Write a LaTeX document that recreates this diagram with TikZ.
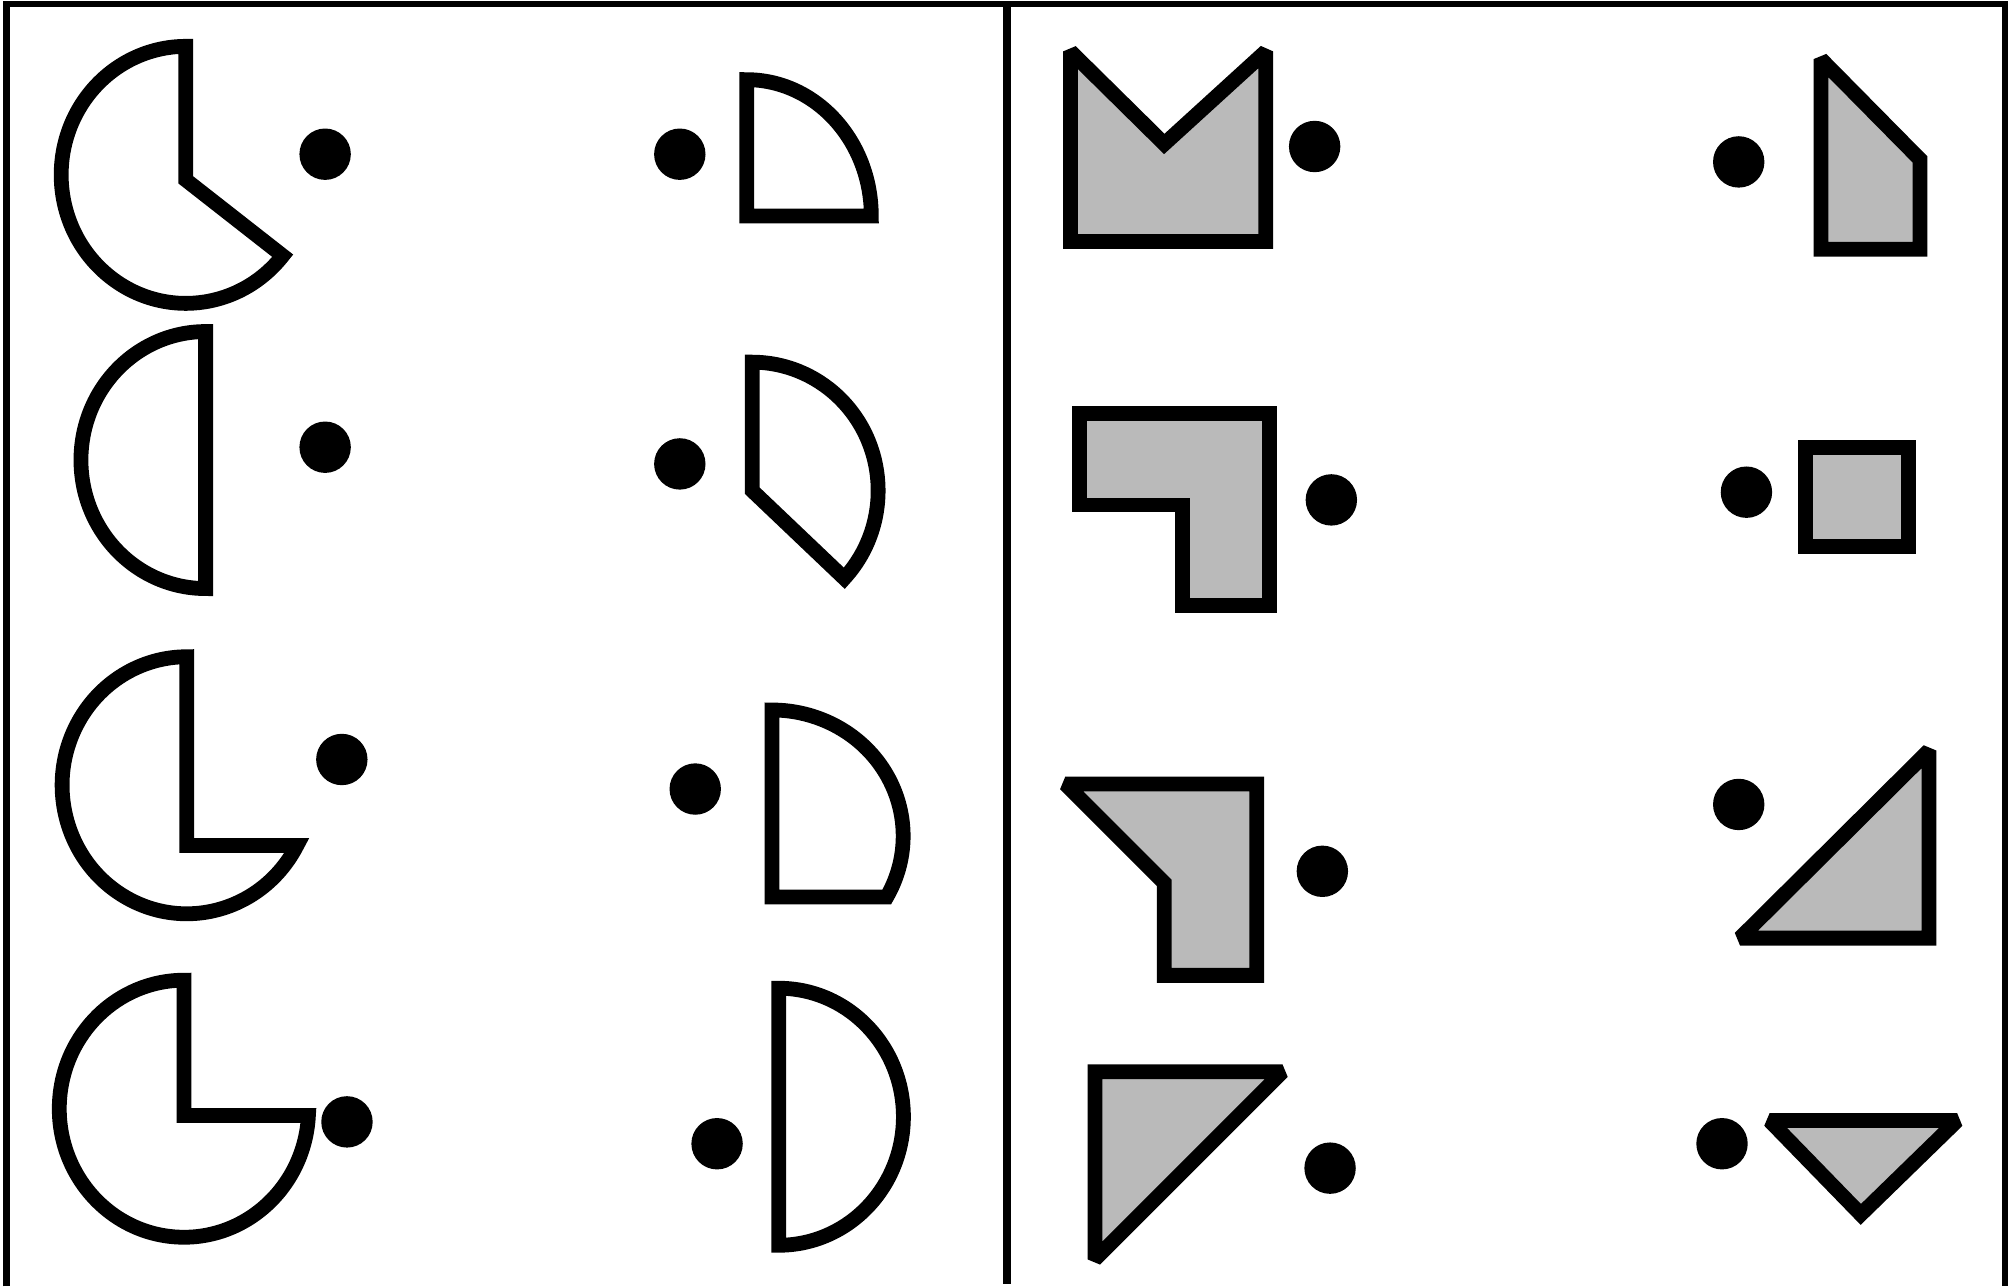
\documentclass[tikz,border=0pt]{standalone}
\begin{document}
\begin{tikzpicture}[x=1pt, y=-1pt,
    outline/.style={line width=11.5pt, line join=miter, miter limit=2},
    pie/.style={outline, fill=white},
    block/.style={outline, fill=black!27},
    dot/.style={circle, fill=black, inner sep=0pt, minimum size=40pt},
    frameline/.style={line width=5pt}]
  \useasboundingbox (0,0) rectangle (1568,1001);
  %% ── Frame and divider ──────────────────────────────────────
  \draw[frameline] (4.9,1001) -- (4.9,3.3) -- (1560,3.3) -- (1560,1001);
  \draw[frameline, line width=6.5pt] (783.6,3.3) -- (783.6,999);
  %% ── Left panel: cut circles ────────────────────────────────
  \draw[pie] (144.62,140) -- (220,199)
    arc[start angle=39, end angle=270, x radius=97, y radius=100] -- cycle;
  \draw[pie] (160,458)
    arc[start angle=90, end angle=270, x radius=97, y radius=100] -- cycle;
  \draw[pie] (145.35,658) -- (231,658)
    arc[start angle=28, end angle=270, x radius=97, y radius=100] -- cycle;
  \draw[pie] (143.13,868) -- (240,868)
    arc[start angle=3, end angle=270, x radius=97, y radius=100] -- cycle;
  \draw[pie] (581,168) -- (678,168)
    arc[start angle=0, end angle=-90, x radius=97, y radius=106] -- cycle;
  \draw[pie] (585.33,381.8) -- (657,450)
    arc[start angle=43, end angle=-90, x radius=98, y radius=100] -- cycle;
  \draw[pie] (600.79,698) -- (690,698)
    arc[start angle=29, end angle=-90, x radius=102, y radius=98] -- cycle;
  \draw[pie] (606,969)
    arc[start angle=90, end angle=-90, x radius=97, y radius=100] -- cycle;
  %% ── Right panel: polygons ──────────────────────────────────
  \draw[block] (833,40) -- (906,112) -- (985,40) -- (985,188) -- (833,188) -- cycle;
  \draw[block] (1417,46) -- (1494,124) -- (1494,194) -- (1417,194) -- cycle;
  \draw[block] (840,322) -- (988,322) -- (988,471) -- (920,471) -- (920,393) -- (840,393) -- cycle;
  \draw[block] (1405,348) rectangle (1485,425);
  \draw[block] (829,610) -- (978,610) -- (978,759) -- (906,759) -- (906,687) -- cycle;
  \draw[block] (1501,584) -- (1501,730) -- (1354,730) -- cycle;
  \draw[block] (852,834) -- (998,834) -- (852,980) -- cycle;
  \draw[block] (1377,872) -- (1523,872) -- (1448,945) -- cycle;
  %% ── Dots ───────────────────────────────────────────────────
  \foreach \n/\x/\y in {
    dotLa/253/120, dotLb/253/348, dotLc/266/591, dotLd/270/873,
    dotMa/529/120, dotMb/529/361, dotMc/541/614, dotMd/558/890,
    dotNa/1023/114, dotNb/1036/389, dotNc/1029/678, dotNd/1035/909,
    dotRa/1353/126, dotRb/1359/383, dotRc/1353/626, dotRd/1340/890}{
    \node[dot] (\n) at (\x,\y) {};
  }
\end{tikzpicture}
\end{document}
